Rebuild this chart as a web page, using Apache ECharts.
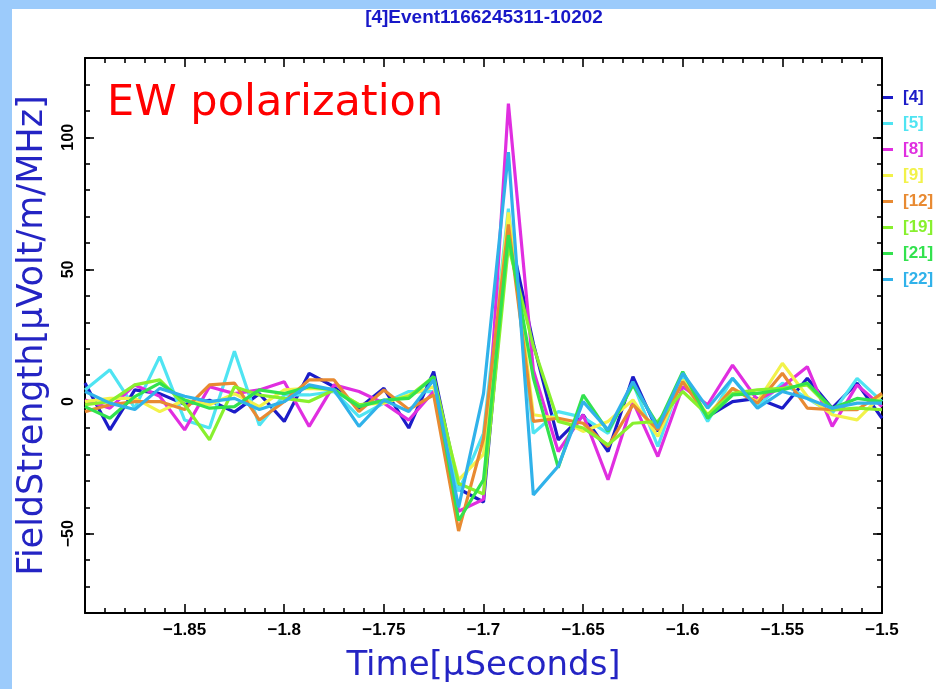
<!DOCTYPE html>
<html>
<head>
<meta charset="utf-8">
<script src="https://cdn.jsdelivr.net/npm/echarts@6/dist/echarts.min.js"></script>
<style>
html,body{margin:0;padding:0;background:#fff;}
#chart{width:936px;height:689px;}
</style>
</head>
<body>
<div id="chart"></div>
<script>
// Time samples (microseconds), 12.5 ns spacing
const times = [];
for (let i = 0; i <= 32; i++) times.push(-1.9 + i * 0.0125);

const seriesNames = ['[4]', '[5]', '[8]', '[9]', '[12]', '[19]', '[21]', '[22]'];
const seriesColors = ['#1c1cc8', '#4fe4f2', '#e02ee0', '#f2f24a', '#e88a32', '#88f02e', '#32e24e', '#30b2ea'];

const s4  = [7, -10.7, 4.4, 3, -1, 0.5, -4, 3, -7.5, 10.7, 5.6, -2.5, 5, -10, 11.3, -33, -38,
             66, 22, -14.5, -5, -18.9, 9.4, -11.3, 9.4, -5.7, 0, 1.2, -2.5, 8.8, -2.5, 7, -6.3];
const s5  = [4.4, 12, -2.5, 17, -7, -10, 19, -9, 2.5, 2.5, 3.8, -5.7, -0.6, 3.8, 3.8, -34, -12,
             73, -12, -3.8, -6, -12, 7, -17, 10, -7.5, 8.8, -1.9, 7, 1.2, -4.4, 8.8, 0];
const s8  = [0.6, -2.5, 6.3, 2, -10.7, 5.6, 3, 4.4, 7.5, -9.4, 6.3, 3.8, -0.6, -7, 3.8, -41.5, -37,
             112.7, 12, -18.9, -5, -29.6, 0, -20.8, 5.6, -1.2, 13.8, 0.6, 5.6, 13.2, -9.4, 6.3, -1.9];
const s9  = [0, 1.2, 1.2, -3.8, 0.6, -1.2, 3, -1.9, 4.4, 5, 4.4, -1.2, -0.6, 2.5, 5.6, -29.6, -20,
             71.6, -5, -6.3, -11.3, -7.5, 0.6, -13.2, 8.2, -5, 5, 0, 14.5, 1.9, -5, -6.9, 2.5];
const s12 = [-3.8, -1.2, 0, 0, -3, 6.3, 7, -7, 0, 8.2, 8.2, -3.8, 4.4, -3, 2.5, -49, -14,
             67, -7.5, -6.3, -8.2, -17, -1.2, -10.7, 7.5, -5.7, 5, -0.6, 10.7, -2.5, -3.1, -3.1, 3.1];
const s19 = [-1.2, 0, 6.3, 8.2, -1.2, -14.5, 5.6, 2.5, 1.2, 0, 4.4, -1.2, 0, 1.9, 9.4, -31, -35,
             59, 21, -7.5, -10, -16.4, -8.2, -7.5, 3.8, -5, 3.1, 4.4, 5, 6.3, -3.1, -2.5, -3.1];
const s21 = [-1.9, -6.3, 1.9, 7, 0.6, -2.5, -1.9, 4.4, 3, 5.6, 4.4, -1.9, 0.6, 1.2, 9.4, -45, -29.6,
             63, 9, -25, 2.5, -11.3, 6.3, -8.8, 11.3, -6.3, 2.5, 3.1, 4.4, 7, -2.5, 1.2, 0];
const s22 = [3.8, -0.6, -3, 5, 2, 0, 1.2, -3, 0, 6.3, 4.4, -9.4, 0.6, -3.8, 8.2, -40, 3,
             94.4, -35.3, -24.5, 0, -10.7, 7.5, -10, 10.7, -2.5, 8.8, -2.5, 3.8, 1.2, -2.5, -0.6, -0.6];
const seriesValues = [s4, s5, s8, s9, s12, s19, s21, s22];

const yMajorTicks = [-50, 0, 50, 100];
const xMin = -1.9, xMax = -1.5, xStep = 0.05;
const yMin = -80, yMax = 130;

const fmtNum = v => {
  const r = parseFloat(Number(v).toFixed(2));
  return (r < 0 ? '\u2212' : '') + Math.abs(r);
};

const lineBlack = {show: true, onZero: false, lineStyle: {color: '#000', width: 2}};
const noLine = {show: false, onZero: false};
const labelFont = {fontFamily: 'Liberation Sans', fontWeight: 'bold', color: '#000'};
const tickStyle = {color: '#000', width: 1.6};

const chart = echarts.init(document.getElementById('chart'), null, {renderer: 'canvas'});
chart.setOption({
  animation: false,
  backgroundColor: '#ffffff',
  title: {
    text: '[4]Event1166245311-10202',
    left: 484, top: 8, textAlign: 'center', padding: 0,
    textStyle: {fontFamily: 'Liberation Sans', fontWeight: 'bold', fontSize: 19, color: '#1818c8'}
  },
  graphic: [
    {type: 'rect', shape: {x: 0, y: 0, width: 936, height: 9}, style: {fill: '#9ccbfb'}, z: 100},
    {type: 'rect', shape: {x: 0, y: 0, width: 12, height: 689}, style: {fill: '#9ccbfb'}, z: 100},
    {type: 'text', left: 107, top: 82, z: 50,
     style: {text: 'EW polarization', fontFamily: 'DejaVu Sans', fontSize: 43, fill: '#ff0000'}}
  ],
  legend: {
    orient: 'vertical', left: 883, top: 89, padding: 0, itemWidth: 10, itemHeight: 3, itemGap: 9,
    icon: 'rect', selectedMode: false,
    textStyle: {fontFamily: 'Liberation Sans', fontWeight: 'bold', fontSize: 17, lineHeight: 16, padding: [0, 0, 0, 5]},
    data: seriesNames.map((n, i) => ({name: n, textStyle: {color: seriesColors[i]}}))
  },
  grid: {left: 85, right: 54, top: 58, bottom: 76, containLabel: false},
  xAxis: [
    {type: 'value', position: 'bottom', min: xMin, max: xMax, interval: xStep,
     axisLine: lineBlack, splitLine: {show: false},
     axisTick: {show: true, inside: true, length: 9, lineStyle: tickStyle},
     minorTick: {show: true, splitNumber: 5, length: 5, lineStyle: tickStyle},
     axisLabel: Object.assign({fontSize: 17, margin: 9, showMinLabel: false, formatter: fmtNum}, labelFont),
     name: 'Time[\u03bcSeconds]', nameLocation: 'middle', nameGap: 36,
     nameTextStyle: {fontFamily: 'DejaVu Sans', fontSize: 34, color: '#2424c4'}},
    {type: 'value', position: 'top', min: xMin, max: xMax, interval: xStep,
     axisLine: lineBlack, splitLine: {show: false},
     axisTick: {show: true, inside: true, length: 9, lineStyle: tickStyle},
     minorTick: {show: true, splitNumber: 5, length: 5, lineStyle: tickStyle},
     axisLabel: {show: false}}
  ],
  yAxis: [
    {type: 'value', position: 'left', min: yMin, max: yMax, interval: 10,
     axisLine: lineBlack, splitLine: {show: false},
     axisTick: {show: true, inside: true, length: 9, customValues: yMajorTicks, lineStyle: tickStyle},
     axisLabel: Object.assign({fontSize: 16, rotate: 90, margin: 8, customValues: yMajorTicks, formatter: fmtNum}, labelFont),
     name: 'FieldStrength[\u03bcVolt/m/MHz]', nameLocation: 'middle', nameGap: 35,
     nameTextStyle: {fontFamily: 'DejaVu Sans', fontSize: 35, color: '#2424c4'}},
    {type: 'value', position: 'left', min: yMin, max: yMax, interval: 10,
     axisLine: noLine, splitLine: {show: false},
     axisTick: {show: true, inside: true, length: 5, lineStyle: tickStyle},
     axisLabel: {show: false}},
    {type: 'value', position: 'right', min: yMin, max: yMax, interval: 10,
     axisLine: lineBlack, splitLine: {show: false},
     axisTick: {show: true, inside: true, length: 9, customValues: yMajorTicks, lineStyle: tickStyle},
     axisLabel: {show: false}},
    {type: 'value', position: 'right', min: yMin, max: yMax, interval: 10,
     axisLine: noLine, splitLine: {show: false},
     axisTick: {show: true, inside: true, length: 5, lineStyle: tickStyle},
     axisLabel: {show: false}}
  ],
  series: seriesNames.map((n, i) => ({
    name: n, type: 'line', xAxisIndex: 0, yAxisIndex: 0,
    data: times.map((t, k) => [t, seriesValues[i][k]]),
    symbol: 'none', smooth: false, clip: true,
    itemStyle: {color: seriesColors[i]},
    lineStyle: {color: seriesColors[i], width: 3.2}
  }))
});
</script>
</body>
</html>
